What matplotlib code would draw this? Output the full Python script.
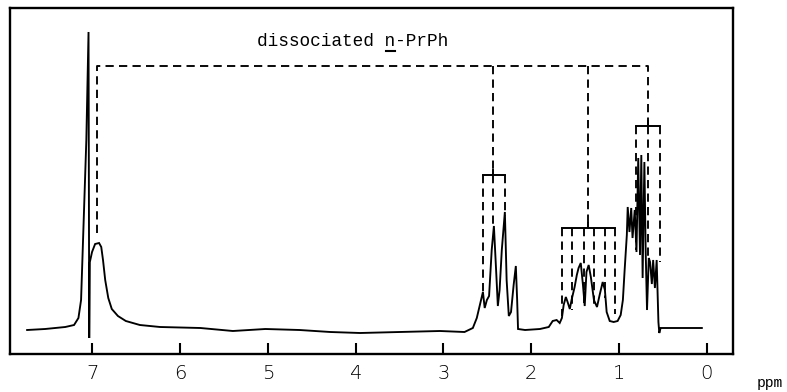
import matplotlib
matplotlib.use("Agg")
import matplotlib.pyplot as plt

# trace of the spectrum (chemical shift in ppm, pen height)
shift = [7.745, 7.54, 7.31, 7.21, 7.16, 7.13, 7.10, 7.07, 7.045, 7.037,
         7.03, 7.005, 6.97, 6.925, 6.90, 6.88, 6.855, 6.82, 6.78, 6.71,
         6.62, 6.46, 6.23, 5.77, 5.40, 5.03, 4.64, 4.29, 3.95, 3.50,
         3.04, 2.76, 2.665, 2.62, 2.585, 2.55, 2.53, 2.505, 2.48, 2.45,
         2.425, 2.40, 2.38, 2.36, 2.335, 2.30, 2.28, 2.255, 2.23, 2.20,
         2.175, 2.16, 2.15, 2.07, 1.90, 1.80, 1.755, 1.71, 1.675, 1.65,
         1.63, 1.605, 1.585, 1.56, 1.54, 1.505, 1.48, 1.46, 1.435, 1.41,
         1.39, 1.37, 1.345, 1.32, 1.285, 1.25, 1.22, 1.185, 1.16, 1.14,
         1.105, 1.06, 1.015, 0.98, 0.955, 0.935, 0.91, 0.90, 0.88, 0.86,
         0.845, 0.82, 0.80, 0.78, 0.76, 0.745, 0.73, 0.71, 0.695, 0.68,
         0.66, 0.645, 0.625, 0.61, 0.59, 0.57, 0.55, 0.54, 0.525, 0.31,
         0.055]
signal = [-2, -1, 1, 3, 10, 28, 108, 188, 296, -10,
          66, 76, 84, 85, 81, 68, 48, 30, 19, 12,
          7, 3, 1, 0, -3, -1, -2, -4, -5, -4,
          -3, -4, 0, 10, 23, 36, 20, 28, 32, 78,
          102, 58, 22, 38, 78, 116, 48, 12, 16, 43,
          62, 28, -1, -2, -1, 1, 7, 8, 5, 10,
          23, 31, 26, 19, 28, 41, 53, 60, 65, 43,
          22, 56, 63, 51, 28, 21, 33, 46, 38, 16,
          7, 6, 7, 13, 28, 58, 93, 121, 96, 120,
          90, 118, 76, 170, 73, 173, 50, 166, 76, 18,
          70, 66, 44, 68, 40, 68, 6, -5, 0, 0,
          0]

# assignment brackets
top_level = 262
top_left, top_right = 6.95, 0.665
arom_leg_end = 95

trip_center, trip_bar, trip_h = 2.43, (2.55, 2.30), 153
trip_legs = [2.55, 2.43, 2.30]
trip_ends = [36, 100, 112]

sext_center, sext_bar, sext_h = 1.355, (1.65, 1.04), 100
sext_legs = [1.65, 1.53, 1.40, 1.28, 1.16, 1.04]
sext_ends = [12, 18, 25, 22, 30, 14]

meth_center, meth_bar, meth_h = 0.665, (0.81, 0.535), 202
meth_legs = [0.81, 0.665, 0.535]
meth_ends = [78, 68, 66]

ticks = [7, 6, 5, 4, 3, 2, 1, 0]

fig = plt.figure(figsize=(7.87, 3.92), dpi=100)
ax = fig.add_axes([10/787, 38/392, 723/787, 346/392])

ax.plot(shift, signal, color="black", lw=1.35, solid_joinstyle="miter")

dash = dict(color="black", lw=1.35, linestyle=(0, (4.4, 2.8)))
solid = dict(color="black", lw=1.4)

# big dashed frame over the whole molecule
ax.plot([top_left, top_left, top_right, top_right],
        [arom_leg_end, top_level, top_level, meth_h], **dash)
ax.plot([trip_center, trip_center], [top_level, trip_h + 4], **dash)
ax.plot([sext_center, sext_center], [top_level, sext_h + 4], **dash)

for center, bar, h, legs, ends in [
        (trip_center, trip_bar, trip_h, trip_legs, trip_ends),
        (sext_center, sext_bar, sext_h, sext_legs, sext_ends),
        (meth_center, meth_bar, meth_h, meth_legs, meth_ends)]:
    ax.plot(bar, [h, h], **solid)
    ax.plot([center, center], [h, h + 5], **solid)
    for x, e in zip(legs, ends):
        ax.plot([x, x], [h, e], **dash)

ax.set_xlim(7.94, -0.30)
ax.set_ylim(-26, 320)
ax.set_xticks(ticks)
ax.set_xticklabels([str(t) for t in ticks], fontsize=14, family="DejaVu Sans",
                   fontweight="light")
ax.set_yticks([])
ax.tick_params(axis="x", direction="in", length=8, width=1.5, pad=7)
for s in ax.spines.values():
    s.set_linewidth(1.7)

lab = ax.text(4.03, 287, "dissociated n-PrPh", ha="center", va="center",
              fontsize=12.8, family="Liberation Mono")
fig.text(770/787, 1 - 383/392, "ppm", ha="center", va="center",
         fontsize=10.5, family="Liberation Mono")

# underline the n in n-PrPh
fig.canvas.draw()
bb = lab.get_window_extent()
cw = bb.width / len("dissociated n-PrPh")
x0 = bb.x0 + 12 * cw
inv = ax.transData.inverted()
(u0, v0) = inv.transform((x0 + 1, bb.y0 - 1))
(u1, v1) = inv.transform((x0 + cw - 1, bb.y0 - 1))
ax.plot([u0, u1], [v0, v0], color="black", lw=1.5)

fig.savefig("out.png", dpi=100)
